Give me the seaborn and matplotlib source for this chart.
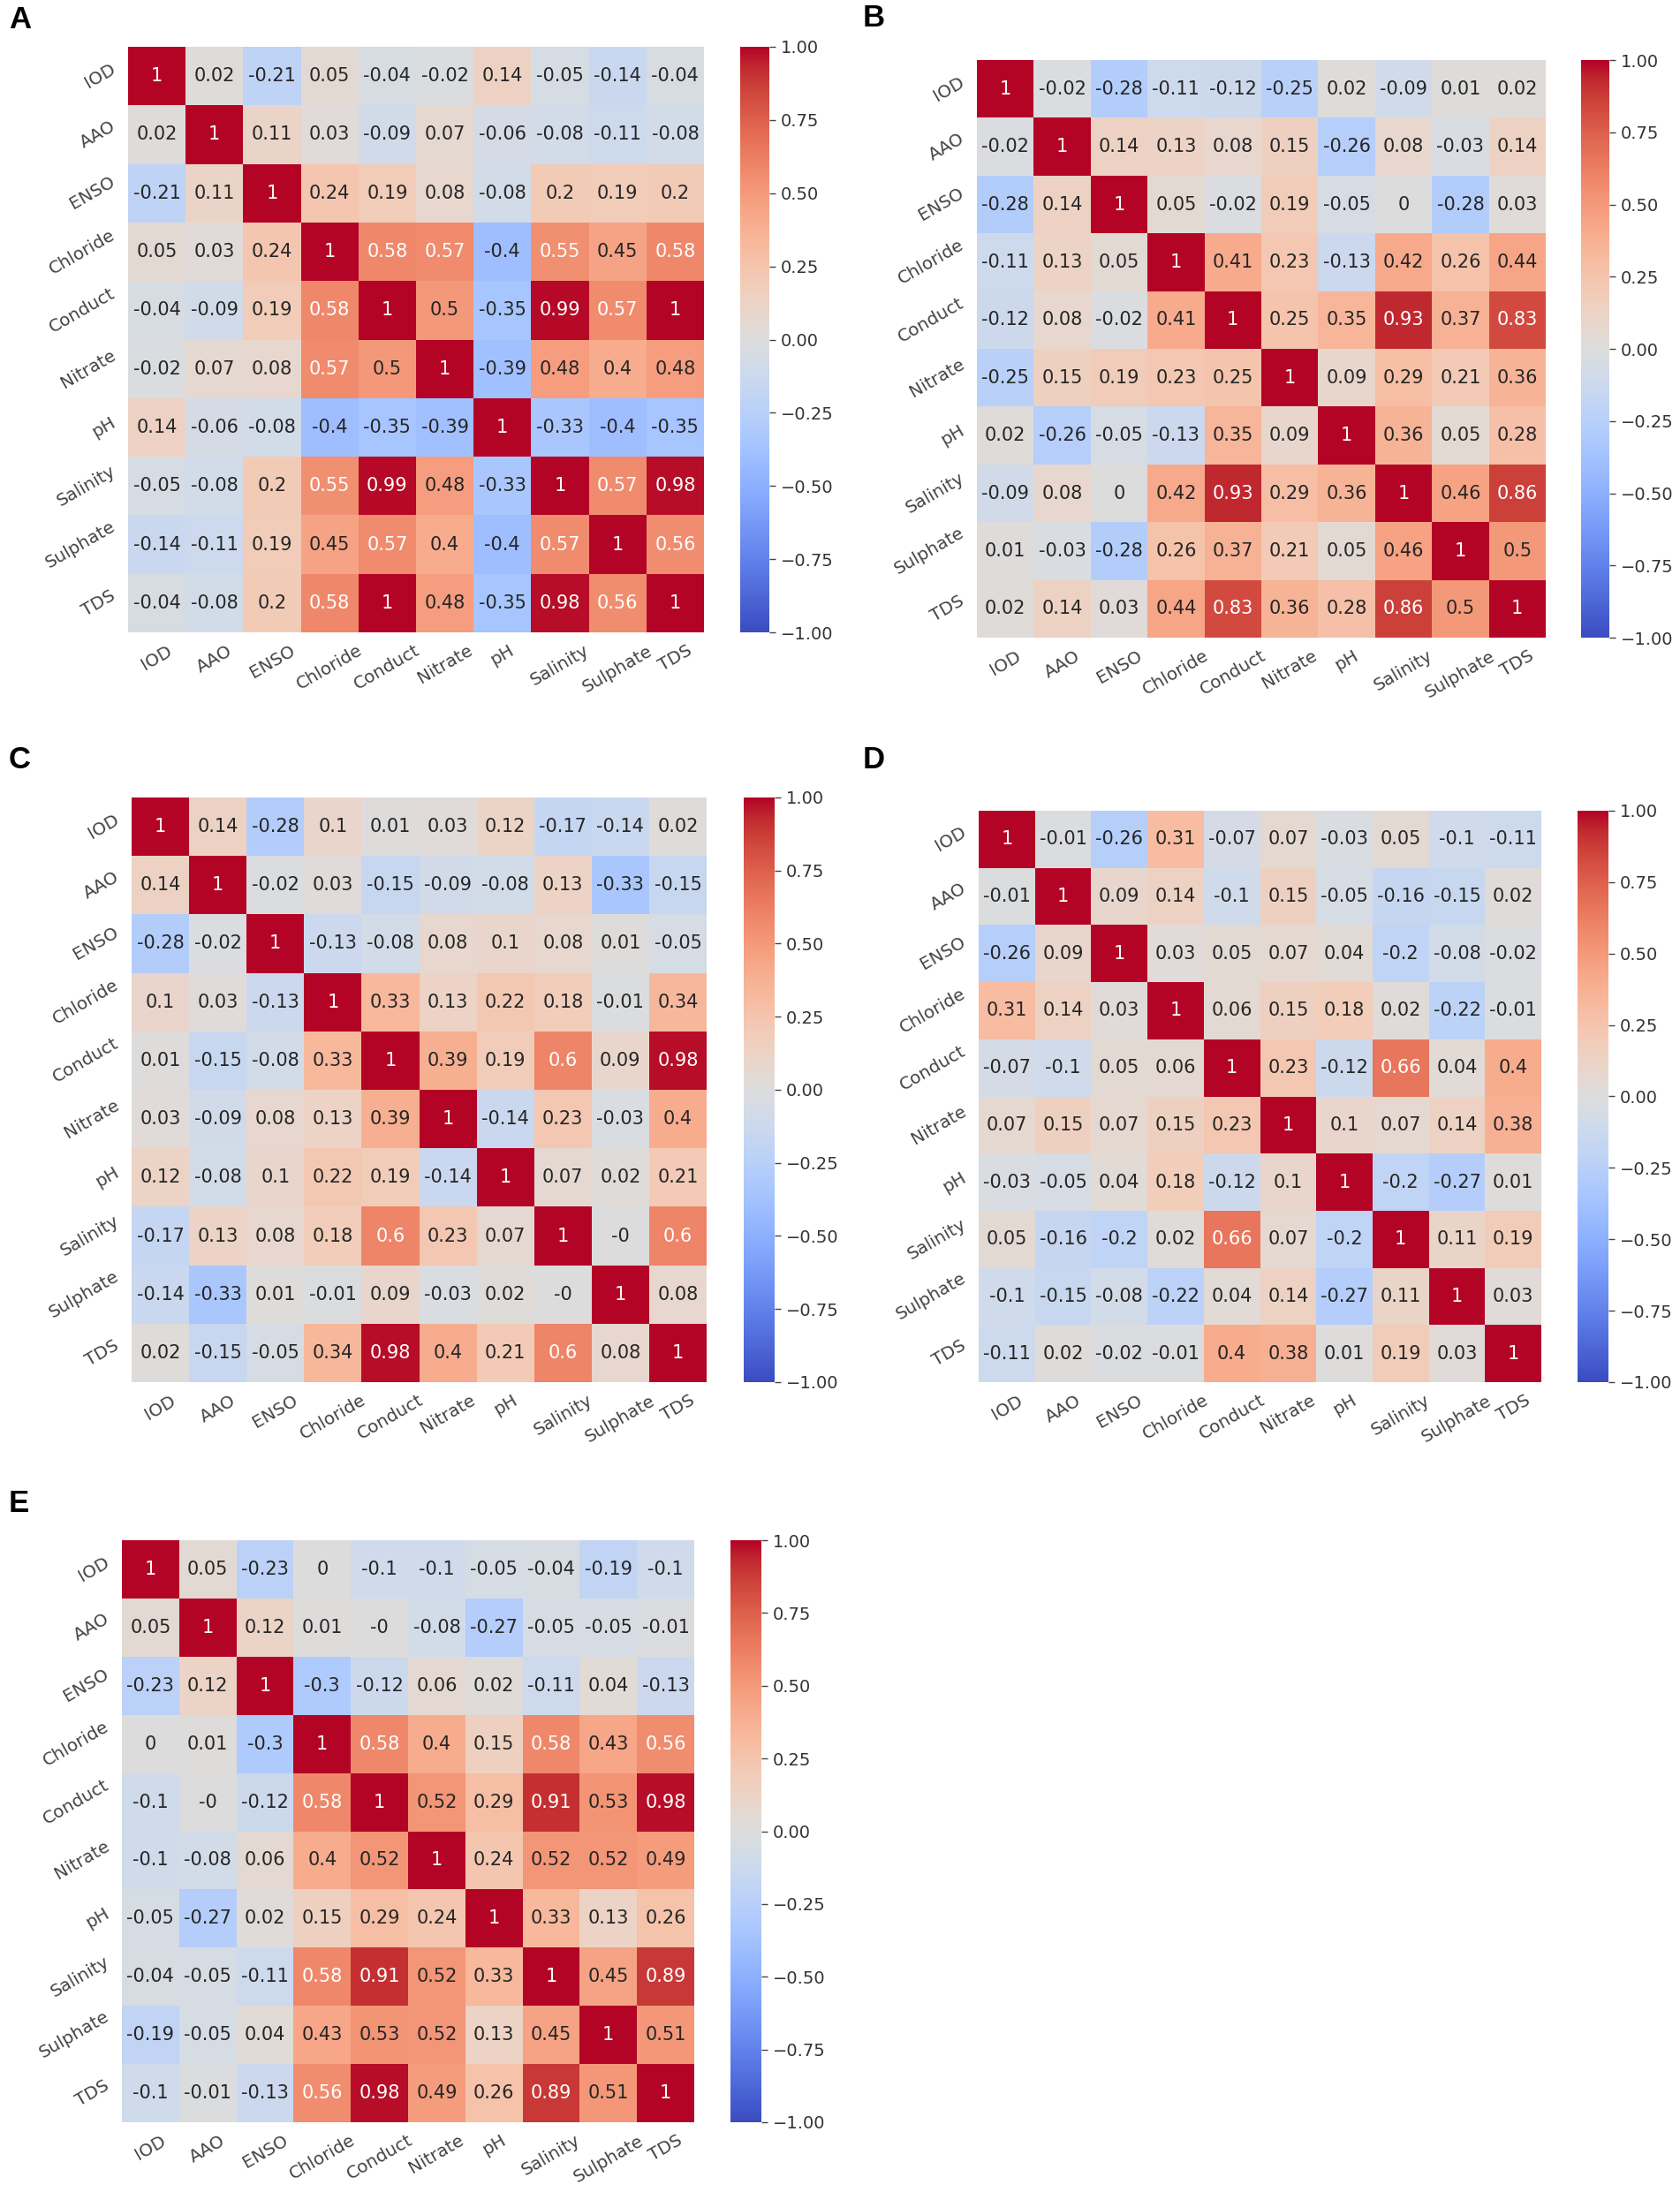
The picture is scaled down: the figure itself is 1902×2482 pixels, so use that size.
import numpy as np
import pandas as pd
import matplotlib
matplotlib.use('Agg')
import matplotlib.pyplot as plt
import seaborn as sns

sns.set_theme(style='white')
plt.rcParams['font.family'] = ['DejaVu Sans']

names = ['IOD', 'AAO', 'ENSO', 'Chloride', 'Conduct', 'Nitrate', 'pH', 'Salinity', 'Sulphate', 'TDS']

corr_a = [
    [1, 0.02, -0.21, 0.05, -0.04, -0.02, 0.14, -0.05, -0.14, -0.04],
    [0.02, 1, 0.11, 0.03, -0.09, 0.07, -0.06, -0.08, -0.11, -0.08],
    [-0.21, 0.11, 1, 0.24, 0.19, 0.08, -0.08, 0.2, 0.19, 0.2],
    [0.05, 0.03, 0.24, 1, 0.58, 0.57, -0.4, 0.55, 0.45, 0.58],
    [-0.04, -0.09, 0.19, 0.58, 1, 0.5, -0.35, 0.99, 0.57, 1],
    [-0.02, 0.07, 0.08, 0.57, 0.5, 1, -0.39, 0.48, 0.4, 0.48],
    [0.14, -0.06, -0.08, -0.4, -0.35, -0.39, 1, -0.33, -0.4, -0.35],
    [-0.05, -0.08, 0.2, 0.55, 0.99, 0.48, -0.33, 1, 0.57, 0.98],
    [-0.14, -0.11, 0.19, 0.45, 0.57, 0.4, -0.4, 0.57, 1, 0.56],
    [-0.04, -0.08, 0.2, 0.58, 1, 0.48, -0.35, 0.98, 0.56, 1],
]
corr_b = [
    [1, -0.02, -0.28, -0.11, -0.12, -0.25, 0.02, -0.09, 0.01, 0.02],
    [-0.02, 1, 0.14, 0.13, 0.08, 0.15, -0.26, 0.08, -0.03, 0.14],
    [-0.28, 0.14, 1, 0.05, -0.02, 0.19, -0.05, 0, -0.28, 0.03],
    [-0.11, 0.13, 0.05, 1, 0.41, 0.23, -0.13, 0.42, 0.26, 0.44],
    [-0.12, 0.08, -0.02, 0.41, 1, 0.25, 0.35, 0.93, 0.37, 0.83],
    [-0.25, 0.15, 0.19, 0.23, 0.25, 1, 0.09, 0.29, 0.21, 0.36],
    [0.02, -0.26, -0.05, -0.13, 0.35, 0.09, 1, 0.36, 0.05, 0.28],
    [-0.09, 0.08, 0, 0.42, 0.93, 0.29, 0.36, 1, 0.46, 0.86],
    [0.01, -0.03, -0.28, 0.26, 0.37, 0.21, 0.05, 0.46, 1, 0.5],
    [0.02, 0.14, 0.03, 0.44, 0.83, 0.36, 0.28, 0.86, 0.5, 1],
]
corr_c = [
    [1, 0.14, -0.28, 0.1, 0.01, 0.03, 0.12, -0.17, -0.14, 0.02],
    [0.14, 1, -0.02, 0.03, -0.15, -0.09, -0.08, 0.13, -0.33, -0.15],
    [-0.28, -0.02, 1, -0.13, -0.08, 0.08, 0.1, 0.08, 0.01, -0.05],
    [0.1, 0.03, -0.13, 1, 0.33, 0.13, 0.22, 0.18, -0.01, 0.34],
    [0.01, -0.15, -0.08, 0.33, 1, 0.39, 0.19, 0.6, 0.09, 0.98],
    [0.03, -0.09, 0.08, 0.13, 0.39, 1, -0.14, 0.23, -0.03, 0.4],
    [0.12, -0.08, 0.1, 0.22, 0.19, -0.14, 1, 0.07, 0.02, 0.21],
    [-0.17, 0.13, 0.08, 0.18, 0.6, 0.23, 0.07, 1, -0.0, 0.6],
    [-0.14, -0.33, 0.01, -0.01, 0.09, -0.03, 0.02, -0.0, 1, 0.08],
    [0.02, -0.15, -0.05, 0.34, 0.98, 0.4, 0.21, 0.6, 0.08, 1],
]
corr_d = [
    [1, -0.01, -0.26, 0.31, -0.07, 0.07, -0.03, 0.05, -0.1, -0.11],
    [-0.01, 1, 0.09, 0.14, -0.1, 0.15, -0.05, -0.16, -0.15, 0.02],
    [-0.26, 0.09, 1, 0.03, 0.05, 0.07, 0.04, -0.2, -0.08, -0.02],
    [0.31, 0.14, 0.03, 1, 0.06, 0.15, 0.18, 0.02, -0.22, -0.01],
    [-0.07, -0.1, 0.05, 0.06, 1, 0.23, -0.12, 0.66, 0.04, 0.4],
    [0.07, 0.15, 0.07, 0.15, 0.23, 1, 0.1, 0.07, 0.14, 0.38],
    [-0.03, -0.05, 0.04, 0.18, -0.12, 0.1, 1, -0.2, -0.27, 0.01],
    [0.05, -0.16, -0.2, 0.02, 0.66, 0.07, -0.2, 1, 0.11, 0.19],
    [-0.1, -0.15, -0.08, -0.22, 0.04, 0.14, -0.27, 0.11, 1, 0.03],
    [-0.11, 0.02, -0.02, -0.01, 0.4, 0.38, 0.01, 0.19, 0.03, 1],
]
corr_e = [
    [1, 0.05, -0.23, 0, -0.1, -0.1, -0.05, -0.04, -0.19, -0.1],
    [0.05, 1, 0.12, 0.01, -0.0, -0.08, -0.27, -0.05, -0.05, -0.01],
    [-0.23, 0.12, 1, -0.3, -0.12, 0.06, 0.02, -0.11, 0.04, -0.13],
    [0, 0.01, -0.3, 1, 0.58, 0.4, 0.15, 0.58, 0.43, 0.56],
    [-0.1, -0.0, -0.12, 0.58, 1, 0.52, 0.29, 0.91, 0.53, 0.98],
    [-0.1, -0.08, 0.06, 0.4, 0.52, 1, 0.24, 0.52, 0.52, 0.49],
    [-0.05, -0.27, 0.02, 0.15, 0.29, 0.24, 1, 0.33, 0.13, 0.26],
    [-0.04, -0.05, -0.11, 0.58, 0.91, 0.52, 0.33, 1, 0.45, 0.89],
    [-0.19, -0.05, 0.04, 0.43, 0.53, 0.52, 0.13, 0.45, 1, 0.51],
    [-0.1, -0.01, -0.13, 0.56, 0.98, 0.49, 0.26, 0.89, 0.51, 1],
]

W, H = 1902, 2482
fig = plt.figure(figsize=(W / 100, H / 100), dpi=100, facecolor='white')


def px_axes(x0, x1, y0, y1):
    # pixel box, measured from the top left of the image
    return fig.add_axes([x0 / W, 1 - y1 / H, (x1 - x0) / W, (y1 - y0) / H])


# panel letter, letter pos, heatmap box, colorbar x range
panels = [
    ('A', corr_a, (10, 32), (145, 797, 53, 716), (838, 871)),
    ('B', corr_b, (977, 30), (1106, 1750, 68, 722), (1790, 1822)),
    ('C', corr_c, (10, 870), (149, 800, 903, 1565), (842, 877)),
    ('D', corr_d, (977, 870), (1108, 1745, 918, 1565), (1786, 1821)),
    ('E', corr_e, (10, 1712), (138, 786, 1744, 2403), (827, 862)),
]

for letter, corr, (lx, ly), (x0, x1, y0, y1), (cx0, cx1) in panels:
    ax = px_axes(x0, x1, y0, y1)
    cax = px_axes(cx0, cx1, y0, y1)
    df = pd.DataFrame(np.array(corr), index=names, columns=names)
    sns.heatmap(df, ax=ax, cbar_ax=cax, cmap='coolwarm', vmin=-1, vmax=1,
                annot=True, fmt='g', annot_kws={'size': 15})
    ax.tick_params(axis='both', length=0, labelsize=14.3, labelcolor='#444444', pad=8)
    plt.setp(ax.get_xticklabels(), rotation=30)
    plt.setp(ax.get_yticklabels(), rotation=30)
    cax.tick_params(axis='y', length=5, width=1, color='#444444', labelsize=14,
                    labelcolor='#333333', pad=4, right=True)
    fig.text(lx / W, 1 - ly / H, letter, fontsize=25, fontweight='bold',
             family='Liberation Sans', color='black', va='baseline', ha='left')

fig.savefig('out.png', dpi=100)
